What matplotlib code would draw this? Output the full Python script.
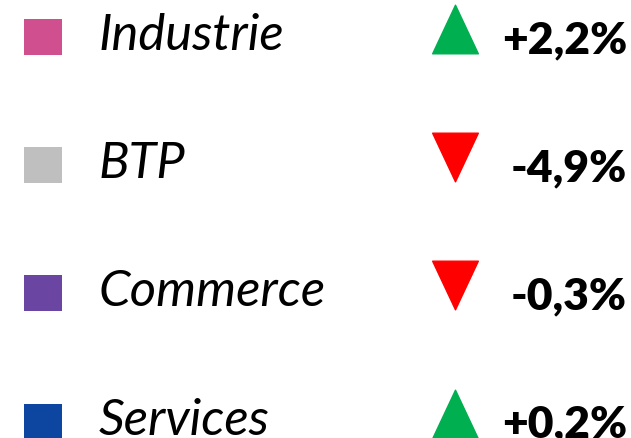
import matplotlib
matplotlib.use("Agg")
import matplotlib.pyplot as plt
from matplotlib.path import Path

categories = ["Industrie", "BTP", "Commerce", "Services"]
values = [2.2, -4.9, -0.3, 0.2]
colors = ["#CF4F8F", "#BFBFBF", "#6B45A2", "#0C46A0"]
value_labels = ["+2,2%", "-4,9%", "-0,3%", "+0,2%"]

UP = "#00AF50"
DOWN = "#FF0000"

fig = plt.figure(figsize=(6.31, 4.38), dpi=100)
ax = fig.add_axes([0, 0, 1, 1])
ax.set_xlim(0, 631)
ax.set_ylim(438, 0)
ax.axis("off")

rows = [37 + 128.2 * i for i in range(len(categories))]

# color swatches
ax.barh(rows, width=38, left=24, height=36, color=colors)

up_marker = Path([(0, 1), (-0.94, -1), (0.94, -1), (0, 1)],
                 [Path.MOVETO, Path.LINETO, Path.LINETO, Path.CLOSEPOLY])
down_marker = Path([(0, -1), (-0.94, 1), (0.94, 1), (0, -1)],
                   [Path.MOVETO, Path.LINETO, Path.LINETO, Path.CLOSEPOLY])

for y, cat, v, lab in zip(rows, categories, values, value_labels):
    ax.text(99, y + 13, cat, fontsize=36.5, fontstyle="italic",
            family="Lato", va="baseline", ha="left", color="black")
    mk = up_marker if v >= 0 else down_marker
    ax.plot([454.5], [y - 8], marker=mk, markersize=35,
            color=UP if v >= 0 else DOWN, linestyle="none")
    ax.text(627, y + 16, lab, fontsize=32, fontweight="heavy",
            family="Lato", va="baseline", ha="right", color="black")

fig.savefig("out.png", dpi=100)
